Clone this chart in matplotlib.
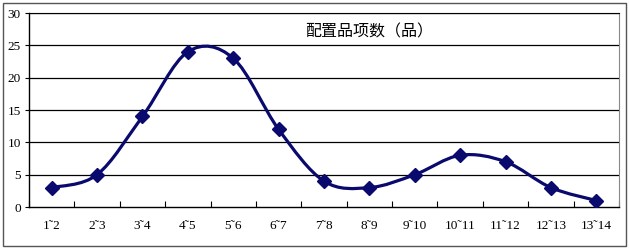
import matplotlib
matplotlib.use("Agg")
import matplotlib.pyplot as plt
import numpy as np
from matplotlib.path import Path
from matplotlib.patches import PathPatch, Rectangle

categories = ["1˜2", "2˜3", "3˜4", "4˜5", "5˜6", "6˜7", "7˜8", "8˜9", "9˜10",
              "10˜11", "11˜12", "12˜13", "13˜14"]
values = [3, 5, 14, 24, 23, 12, 4, 3, 5, 8, 7, 3, 1]
title = "配置品项数（品）"
yticks = [0, 5, 10, 15, 20, 25, 30]

color = "#0a0a6e"

fig = plt.figure(figsize=(6.29, 2.49), dpi=100)
fig.patches.append(Rectangle((0.004, 0.012), 0.991, 0.976, transform=fig.transFigure,
                             fill=False, edgecolor="#555555", linewidth=1.0))
ax = fig.add_axes([29/629, 1-207/249, 590/629, 194/249])

x = np.arange(len(values)) + 0.5
y = np.array(values, dtype=float)

# smooth curve via cubic Bezier (Catmull-Rom style control points)
verts = [(x[0], y[0])]
codes = [Path.MOVETO]
t = 1/6
for i in range(len(x) - 1):
    p0 = (x[i-1], y[i-1]) if i > 0 else (x[i], y[i])
    p1 = (x[i], y[i])
    p2 = (x[i+1], y[i+1])
    p3 = (x[i+2], y[i+2]) if i + 2 < len(x) else (x[i+1], y[i+1])
    c1 = (p1[0] + (p2[0]-p0[0])*t, p1[1] + (p2[1]-p0[1])*t)
    c2 = (p2[0] - (p3[0]-p1[0])*t, p2[1] - (p3[1]-p1[1])*t)
    verts += [c1, c2, p2]
    codes += [Path.CURVE4]*3
ax.add_patch(PathPatch(Path(verts, codes), fill=False, edgecolor=color, linewidth=2.3, zorder=3))
ax.plot(x, y, linestyle="none", marker="D", markersize=7, color=color, zorder=4)

ax.set_xlim(0, len(values))
ax.set_ylim(0, 30)
ax.set_yticks(yticks)
ax.set_yticklabels([str(v) for v in yticks], fontsize=9.5, family="Liberation Serif")
ax.set_xticks(np.arange(len(values)+1))
ax.set_xticklabels([])
ax.set_xticks(x, minor=True)
ax.set_xticklabels(categories, minor=True, fontsize=9.5, family="Liberation Serif")
ax.tick_params(axis="x", which="minor", length=0, pad=9)
ax.tick_params(axis="x", which="major", direction="in", length=4, width=0.8)
ax.tick_params(axis="y", direction="out", length=3, width=0.8, pad=3)
for v in yticks[1:]:
    ax.axhline(v, color="black", linewidth=0.9, zorder=1)
for s in ["left", "bottom"]:
    ax.spines[s].set_color("black")
    ax.spines[s].set_linewidth(1.0)
ax.spines["right"].set_color("#888888")
ax.spines["top"].set_color("black")

ax.text(0.576, 0.90, title, transform=ax.transAxes, fontsize=11.5,
        family=["Noto Sans CJK SC", "DejaVu Sans"], ha="center", va="center")

fig.savefig("out.png", dpi=100)
